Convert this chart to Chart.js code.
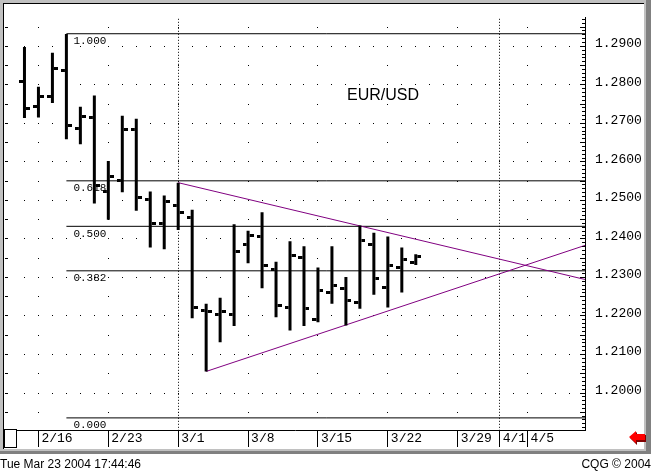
<!DOCTYPE html>
<html>
<head>
<meta charset="utf-8">
<script src="https://cdn.jsdelivr.net/npm/chart.js@4.4.1/dist/chart.umd.min.js"></script>
<style>
  html, body { margin: 0; padding: 0; background: #fff; }
  #wrap { position: relative; width: 651px; height: 472px; overflow: hidden; }
  #chart { position: absolute; left: 0; top: 0; }
  .txt { position: absolute; white-space: nowrap; color: #000; font-family: 'Liberation Sans', Arial, sans-serif; }
  .status { top: 457px; font-size: 12px; line-height: 14px; }
  #pair { left: 347px; top: 87px; font-size: 16px; line-height: 16px; }
</style>
</head>
<body>
<div id="wrap">
  <canvas id="chart" width="651" height="472"></canvas>
  <div id="pair" class="txt">EUR/USD</div>
  <div class="txt status" style="left:0">Tue Mar 23 2004 17:44:46</div>
  <div class="txt status" style="right:0">CQG © 2004</div>
</div>
<script>
// daily bars, EUR/USD, 2/13 .. 3/24 (last one still forming)
const dates  = ['2/13','2/16','2/17','2/18','2/19','2/20','2/23','2/24','2/25','2/26','2/27','3/1','3/2','3/3','3/4','3/5','3/8','3/9','3/10','3/11','3/12','3/15','3/16','3/17','3/18','3/19','3/22','3/23','3/24'];
const opens  = [1.2808,1.2744,1.2769,1.2838,1.2687,1.2716,1.2523,1.2552,1.2684,1.2502,1.2439,1.2486,1.2456,1.2215,1.2205,1.2205,1.2385,1.2406,1.2321,1.2222,1.2351,1.2192,1.2262,1.2272,1.2235,1.2385,1.2275,1.2325,1.2338];
const highs  = [1.2898,1.2795,1.2883,1.2932,1.2743,1.2772,1.2602,1.2720,1.2712,1.2523,1.2513,1.2546,1.2476,1.2232,1.2247,1.2438,1.2421,1.2469,1.2341,1.2394,1.2381,1.2326,1.2381,1.2301,1.2435,1.2416,1.2406,1.2378,1.2360];
const lows   = [1.2714,1.2715,1.2753,1.2659,1.2646,1.2492,1.2450,1.2521,1.2473,1.2378,1.2373,1.2423,1.2194,1.2056,1.2132,1.2174,1.2337,1.2272,1.2197,1.2162,1.2174,1.2184,1.2232,1.2175,1.2219,1.2255,1.2222,1.2261,1.2332];
const closes = [1.2738,1.2769,1.2843,1.2695,1.2719,1.2538,1.2561,1.2684,1.2507,1.2441,1.2497,1.2469,1.2222,1.2211,1.2211,1.2368,1.2408,1.2331,1.2228,1.2358,1.2219,1.2267,1.2278,1.2240,1.2396,1.2296,1.2332,1.2346,1.2355];

// time axis: label positions are trading-day slots counted from 2/13
const tickIdx    = [1, 6, 11, 16, 21, 26, 31, 34, 36];
const tickLabels = ['2/16','2/23','3/1','3/8','3/15','3/22','3/29','4/1','4/5'];
const weekIdx    = [1, 6, 11, 16, 21, 26, 31, 36];
const monthIdx   = [11, 34];

// fibonacci retracement
const fibLabels  = ['1.000','0.618','0.500','0.382','0.000'];
const fibPrices  = [1.29326, 1.25508, 1.24327, 1.23172, 1.19354];
const fibStart   = 3;

// triangle
const trendUpper = [{ x: 11, y: 1.2546 }, { x: 41, y: 1.2287 }];
const trendLower = [{ x: 13, y: 1.2056 }, { x: 41, y: 1.2394 }];

const X_MIN = -1.392857, X_MAX = 40.107143;
const Y_MIN = 1.1904, Y_MAX = 1.2974;
const MONO = 'Liberation Mono';

function tickImage(side) {
  const c = document.createElement('canvas');
  c.width = 11; c.height = 3;
  const g = c.getContext('2d');
  g.fillStyle = '#000';
  g.fillRect(side < 0 ? 0 : 7, 0, 4, 3);
  return c;
}

const cqgDecor = {
  id: 'cqgDecor',
  beforeDraw(chart) {
    const ctx = chart.ctx;
    ctx.save();
    ctx.fillStyle = '#fff';
    ctx.fillRect(0, 0, chart.width, chart.height);
    ctx.restore();
  },
  beforeDatasetsDraw(chart) {
    const { ctx, chartArea: a, scales: { x, y } } = chart;
    ctx.save();
    ctx.fillStyle = '#000';
    const slots = Array.from({ length: 41 }, (_, i) => i);
    for (let j = Math.ceil(Y_MIN / 0.005); j * 0.005 <= Y_MAX; j++) {
      const py = Math.floor(y.getPixelForValue(j * 0.005));
      if (py <= a.top || py >= a.bottom) continue;
      (j % 2 === 0 ? slots : weekIdx).forEach(i => {
        const px = Math.floor(x.getPixelForValue(i));
        if (px > a.left && px < a.right) ctx.fillRect(px, py, 1, 1);
      });
    }
    monthIdx.forEach(i => {
      const px = Math.floor(x.getPixelForValue(i));
      for (let py = a.top + 1; py < a.bottom; py += 3) ctx.fillRect(px, py, 1, 1);
    });
    ctx.font = '11px "' + MONO + '"';
    ctx.textBaseline = 'top';
    const lx = x.getPixelForValue(fibStart) + 7;
    fibLabels.forEach((t, k) => ctx.fillText(t, lx, y.getPixelForValue(fibPrices[k]) + 2));
    ctx.restore();
  },
  afterDraw(chart) {
    const { ctx, chartArea: a, scales: { x, y } } = chart;
    const W = chart.width;
    ctx.save();
    // window frame
    ctx.fillStyle = '#c0c0c0';
    ctx.fillRect(0, 0, W, 3);
    ctx.fillRect(0, 0, 3, 451);
    ctx.fillRect(644, 0, 7, 451);
    ctx.fillRect(0, 449, W, 5);
    ctx.fillStyle = '#808080';
    ctx.fillRect(646, 0, 5, 454);
    ctx.fillRect(0, 451, W, 3);
    ctx.fillStyle = '#000';
    ctx.fillRect(3, 3, 641, 1);
    ctx.fillRect(3, 3, 1, 446);
    // right axis minor ticks, left edge ticks
    for (let k = Math.ceil(Y_MIN * 1000); k <= Y_MAX * 1000; k++) {
      const py = Math.floor(y.getPixelForValue(k / 1000));
      const len = k % 5 === 0 ? 5 : 3;
      ctx.fillRect(a.right - len, py, len, 1);
      if (k % 5 === 0) ctx.fillRect(a.left, py, 3, 1);
    }
    // date separators
    tickIdx.forEach(i => {
      const px = Math.floor(x.getPixelForValue(i));
      ctx.fillRect(px, a.bottom, 1, 17);
    });
    // small box bottom-left
    ctx.strokeStyle = '#000';
    ctx.lineWidth = 1;
    ctx.fillStyle = '#fff';
    ctx.fillRect(4, 430, 12, 18);
    ctx.strokeRect(4.5, 429.5, 12, 18);
    // red arrow
    ctx.fillStyle = '#800000';
    ctx.beginPath();
    ctx.moveTo(630, 438); ctx.lineTo(637, 432); ctx.lineTo(637, 435); ctx.lineTo(646, 435);
    ctx.lineTo(646, 442); ctx.lineTo(637, 442); ctx.lineTo(637, 445); ctx.closePath(); ctx.fill();
    ctx.fillStyle = '#ff0000';
    ctx.beginPath();
    ctx.moveTo(629, 437); ctx.lineTo(636, 431); ctx.lineTo(636, 434); ctx.lineTo(645, 434);
    ctx.lineTo(645, 440); ctx.lineTo(636, 440); ctx.lineTo(636, 443); ctx.closePath(); ctx.fill();
    ctx.restore();
  }
};

const lineSet = (data, color) => ({
  type: 'line', data, borderColor: color, borderWidth: 1, pointRadius: 0, fill: false, tension: 0
});

const datasets = [
  {
    type: 'bar',
    data: dates.map((d, i) => ({ x: i, y: [lows[i], highs[i]] })),
    backgroundColor: '#000', borderWidth: 0, barThickness: 3, inflateAmount: 0, order: 1
  },
  { type: 'line', data: dates.map((d, i) => ({ x: i, y: opens[i] })), showLine: false, pointStyle: tickImage(-1), order: 2 },
  { type: 'line', data: dates.map((d, i) => ({ x: i, y: closes[i] })), showLine: false, pointStyle: tickImage(1), order: 2 },
  Object.assign(lineSet(trendUpper, '#800080'), { order: 3 }),
  Object.assign(lineSet(trendLower, '#800080'), { order: 3 }),
  ...fibPrices.map(p => Object.assign(lineSet([{ x: fibStart, y: p }, { x: X_MAX + 1, y: p }], '#000'), { order: 4 }))
];

Chart.defaults.font.family = MONO;
Chart.defaults.font.size = 13;
Chart.defaults.color = '#000';

new Chart(document.getElementById('chart'), {
  type: 'bar',
  data: { datasets },
  plugins: [cqgDecor],
  options: {
    responsive: false,
    animation: false,
    events: [],
    layout: { padding: { left: 4, top: 4, right: 0, bottom: 22 } },
    plugins: { legend: { display: false }, tooltip: { enabled: false } },
    scales: {
      x: {
        type: 'linear', min: X_MIN, max: X_MAX, offset: false,
        grid: { display: false, drawTicks: false },
        border: { display: true, color: '#000', width: 1 },
        afterBuildTicks: s => { s.ticks = tickIdx.map(v => ({ value: v })); },
        afterFit: s => { s.height = 20; },
        ticks: {
          autoSkip: false, maxRotation: 0, align: 'start', labelOffset: 3, padding: 1,
          callback: v => tickLabels[tickIdx.indexOf(v)] || ''
        }
      },
      y: {
        position: 'right', min: Y_MIN, max: Y_MAX,
        grid: { display: false, drawTicks: false },
        border: { display: true, color: '#000', width: 1 },
        afterFit: s => { s.width = 66; },
        ticks: { stepSize: 0.01, includeBounds: false, padding: 10, labelOffset: -2.5, callback: v => v.toFixed(4) }
      }
    }
  }
});
</script>
</body>
</html>
